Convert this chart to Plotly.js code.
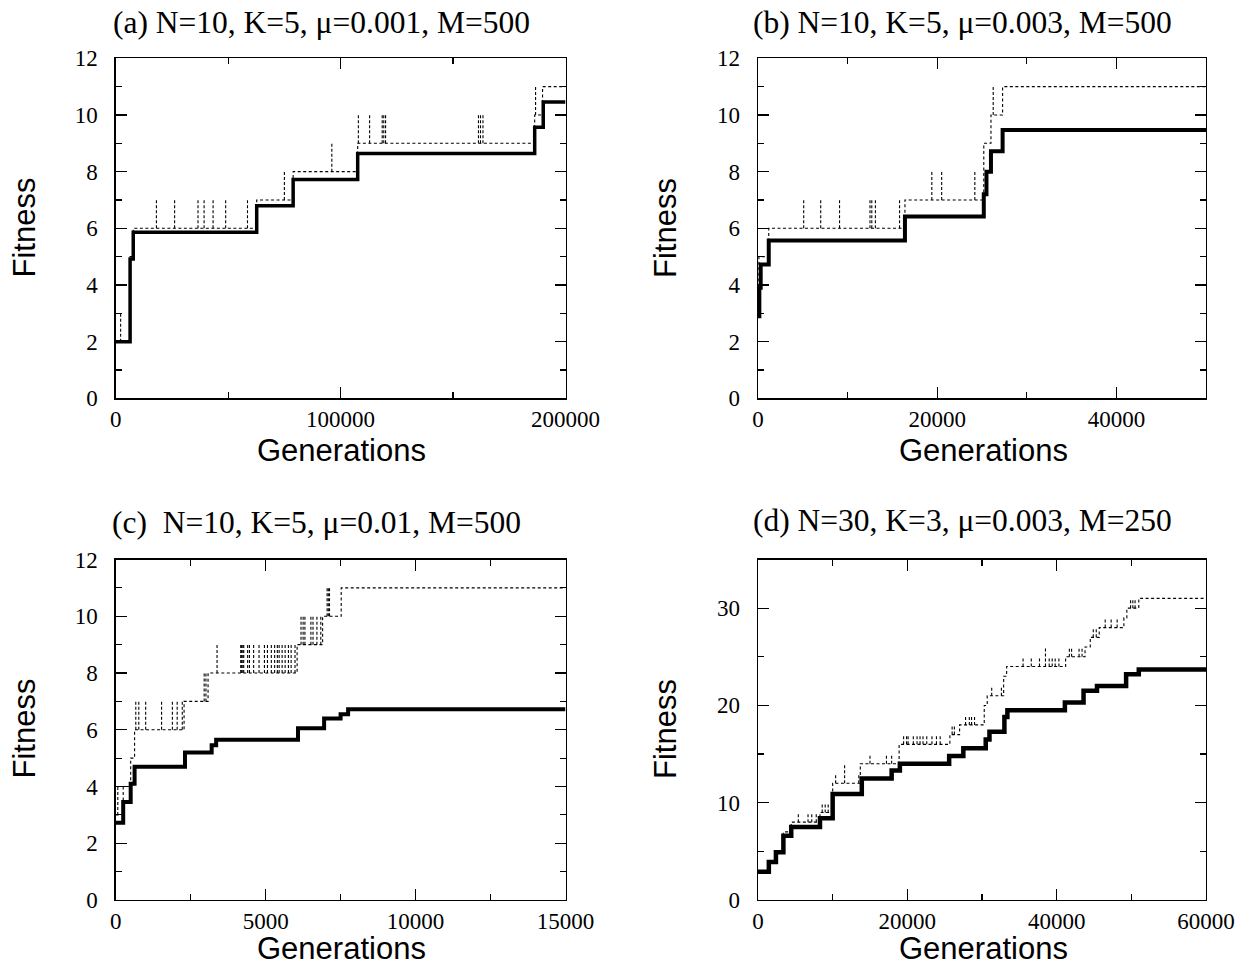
<!DOCTYPE html>
<html><head><meta charset="utf-8">
<script src="https://cdn.plot.ly/plotly-3.0.1.min.js"></script>
<style>html,body{margin:0;padding:0;background:#fff}</style>
</head><body><div id="chart" style="width:1247px;height:966px"></div>
<script>
// ---------- Panel (a) N=10, K=5, mu=0.001, M=500 ----------
const aMeanGen = [0, 6400, 7800, 62700, 78900, 107600, 186300, 190100, 200000];
const aMeanFit = [2.0, 4.92, 5.86, 6.8, 7.72, 8.64, 9.57, 10.46, 10.46];
const aMaxGen  = [0, 6400, 7800, 62700, 78900, 107600, 186300, 189800, 200000];
const aMaxFit  = [2, 5, 6, 7, 8, 9, 10, 11, 11];
const aSpikeGen = [2200, 18100, 26200, 36600, 39300, 43300, 48900, 58600, 75000, 96100,
                   107900, 112900, 118500, 119200, 120000, 161300, 162200, 163300, 186700];
const aSpikeTop = [3, 7, 7, 7, 7, 7, 7, 7, 8, 9, 10, 10, 10, 10, 10, 10, 10, 10, 11];

// ---------- Panel (b) N=10, K=5, mu=0.003, M=500 ----------
const bMeanGen = [0, 150, 300, 1200, 16400, 25200, 25500, 26000, 27300, 50000];
const bMeanFit = [2.9, 3.9, 4.72, 5.57, 6.42, 7.2, 8.0, 8.72, 9.47, 9.47];
const bMaxGen  = [0, 100, 1200, 16400, 25200, 26000, 27300, 50000];
const bMaxFit  = [3, 5, 6, 7, 9, 10, 11, 11];
const bSpikeGen = [5100, 7000, 9100, 12500, 12700, 13100, 15800, 19400, 20500, 24200, 26250];
const bSpikeTop = [7, 7, 7, 7, 7, 7, 7, 8, 8, 8, 11];

// ---------- Panel (c) N=10, K=5, mu=0.01, M=500 ----------
const cMeanGen = [0, 250, 500, 630, 2310, 3200, 3350, 6080, 6950, 7500, 7750, 15000];
const cMeanFit = [2.72, 3.45, 4.1, 4.7, 5.2, 5.45, 5.65, 6.05, 6.4, 6.55, 6.72, 6.72];
const cMaxGen  = [0, 250, 500, 630, 2280, 3080, 6050, 6900, 7520, 15000];
const cMaxFit  = [3, 4, 5, 6, 7, 8, 9, 10, 11, 11];
const cSpikeGen = [70, 670, 770, 1000, 1530, 1890, 2050, 2220, 2950, 3010,
                   3380, 4170, 4200, 4240, 4270, 4400, 4460, 4600, 4780, 4960,
                   5060, 5190, 5300, 5390, 5450, 5550, 5650, 5760, 5850, 5980,
                   6180, 6250, 6310, 6510, 6580, 6710, 6840, 7050, 7090, 7130];
const cSpikeTop = [4, 7, 7, 7, 7, 7, 7, 7, 8, 8,
                   9, 9, 9, 9, 9, 9, 9, 9, 9, 9,
                   9, 9, 9, 9, 9, 9, 9, 9, 9, 9,
                   10, 10, 10, 10, 10, 10, 10, 11, 11, 11];

// ---------- Panel (d) N=30, K=3, mu=0.003, M=250 ----------
const dMeanGen = [0, 1450, 2400, 3400, 4450, 8300, 10000, 13900, 17900, 19000, 25600,
                  27500, 30500, 31000, 33000, 33400, 41100, 43600, 45400, 49300, 51000, 60000];
const dMeanFit = [2.9, 3.9, 4.9, 6.6, 7.5, 8.4, 10.9, 12.5, 13.3, 14.0, 14.8,
                  15.6, 16.5, 17.3, 18.8, 19.5, 20.3, 21.5, 22.0, 23.2, 23.7, 23.6];
const dMaxGen  = [0, 1450, 2400, 3400, 4450, 8300, 10000, 13700, 18900, 25700, 27000,
                  30300, 30700, 32900, 33300, 41200, 43800, 44500, 45700, 49000, 49400, 51000, 60000];
const dMaxFit  = [3, 4, 5, 7, 8, 9, 12, 14, 16, 17, 18,
                  20, 21, 23, 24, 25, 26, 27, 28, 29, 30, 31, 31];
const dSpikeGen = [5400, 6700, 7200, 7800, 8600, 9000, 9400, 10400, 11600, 13500,
                   15000, 17200, 17900, 19500, 19900, 20100, 20800, 21300, 21700, 22100,
                   22600, 23300, 23900, 24400, 26000, 26300, 27800, 28300, 28600, 29000,
                   31300, 32600, 35500, 36600, 37700, 38500, 39000, 39400, 39800, 40300,
                   41700, 42000, 43000, 43400, 44900, 45300, 46500, 47300, 48100, 49900,
                   50200, 50500];
const dSpikeTop = [9, 9, 9, 9, 10, 10, 10, 13, 14, 13,
                   15, 15, 15, 17, 17, 17, 17, 17, 17, 17,
                   17, 17, 17, 17, 18, 18, 19, 19, 19, 19,
                   22, 22, 25, 25, 25, 26, 25, 25, 25, 25,
                   26, 26, 26, 26, 28, 28, 29, 29, 29, 31,
                   31, 31];

// ---------- Titles and ticks ----------
const panelTitles = ["(a) N=10, K=5, \u03bc=0.001, M=500", "(b) N=10, K=5, \u03bc=0.003, M=500",
                     "(c)\u00a0\u00a0N=10, K=5, \u03bc=0.01, M=500", "(d) N=30, K=3, \u03bc=0.003, M=250"];
const xTitle = "Generations", yTitle = "Fitness";
const aXTicks = [0, 100000, 200000], bXTicks = [0, 20000, 40000];
const cXTicks = [0, 5000, 10000, 15000], dXTicks = [0, 20000, 40000, 60000];
const fitTicks12 = [0, 2, 4, 6, 8, 10, 12], fitTicks35 = [0, 10, 20, 30];

// ---------- helpers ----------
function stepTrace(gx, fy, xa, ya, w, dash) {
  return {x: gx, y: fy, xaxis: xa, yaxis: ya, mode: 'lines', line: {shape: 'hv', color: '#000', width: w, dash: dash || 'solid'},
          hoverinfo: 'skip', showlegend: false};
}
function spikeTrace(gens, tops, stepGen, stepFit, xa, ya) {
  const x = [], y = [];
  gens.forEach((g, i) => {
    let lvl = stepFit[0];
    for (let k = 0; k < stepGen.length; k++) { if (stepGen[k] <= g) lvl = stepFit[k]; }
    x.push(g, g, null); y.push(lvl, tops[i], null);
  });
  return {x, y, xaxis: xa, yaxis: ya, mode: 'lines', line: {color: '#000', width: 1.1, dash: '3px,2px'},
          hoverinfo: 'skip', showlegend: false};
}
const W = 1247, H = 966;
const DOT = '3px,2.5px';
const traces = [
  stepTrace(aMaxGen, aMaxFit, 'x', 'y', 1.1, DOT),
  spikeTrace(aSpikeGen, aSpikeTop, aMaxGen, aMaxFit, 'x', 'y'),
  stepTrace(aMeanGen, aMeanFit, 'x', 'y', 3.5),
  stepTrace(bMaxGen, bMaxFit, 'x2', 'y2', 1.1, DOT),
  spikeTrace(bSpikeGen, bSpikeTop, bMaxGen, bMaxFit, 'x2', 'y2'),
  stepTrace(bMeanGen, bMeanFit, 'x2', 'y2', 4),
  stepTrace(cMaxGen, cMaxFit, 'x3', 'y3', 1.1, DOT),
  spikeTrace(cSpikeGen, cSpikeTop, cMaxGen, cMaxFit, 'x3', 'y3'),
  stepTrace(cMeanGen, cMeanFit, 'x3', 'y3', 4),
  stepTrace(dMaxGen, dMaxFit, 'x4', 'y4', 1.1, DOT),
  spikeTrace(dSpikeGen, dSpikeTop, dMaxGen, dMaxFit, 'x4', 'y4'),
  stepTrace(dMeanGen, dMeanFit, 'x4', 'y4', 4.5)
];

const tickFont = {family: 'Liberation Serif, Times New Roman, serif', size: 23, color: '#000'};
function axisBase(domain, range, tickvals, minorDtick, anchor, standoff) {
  return {domain, range, anchor, tickmode: 'array', tickvals, ticktext: tickvals.map(String),
          ticks: 'inside', ticklen: 11, tickwidth: 1.2, tickcolor: '#000',
          minor: {ticks: 'inside', ticklen: 6, tickwidth: 1.2, tickcolor: '#000', tickmode: 'linear', tick0: 0, dtick: minorDtick},
          showline: true, linecolor: '#000', linewidth: 1.3, mirror: 'ticks', showgrid: false, zeroline: false,
          tickfont: tickFont, ticklabelstandoff: standoff, fixedrange: true};
}
const xL = [115.7 / W, 565.5 / W], xR = [758 / W, 1206 / W];
const yT = [1 - 398.3 / H, 1 - 58.3 / H], yB = [1 - 900 / H, 1 - 559.5 / H];

const layout = {
  width: W, height: H, margin: {l: 0, r: 0, t: 0, b: 0}, autosize: false,
  paper_bgcolor: '#fff', plot_bgcolor: '#fff', showlegend: false,
  xaxis:  axisBase(xL, [0, 200000], aXTicks, 50000, 'y', 0),
  yaxis:  axisBase(yT, [0, 12], fitTicks12, 1, 'x', 12),
  xaxis2: axisBase(xR, [0, 50000], bXTicks, 10000, 'y2', 0),
  yaxis2: axisBase(yT, [0, 12], fitTicks12, 1, 'x2', 12),
  xaxis3: axisBase(xL, [0, 15000], cXTicks, 2500, 'y3', 0),
  yaxis3: axisBase(yB, [0, 12], fitTicks12, 1, 'x3', 12),
  xaxis4: axisBase(xR, [0, 60000], dXTicks, 10000, 'y4', 0),
  yaxis4: axisBase(yB, [0, 35], fitTicks35, 5, 'x4', 12),
  annotations: []
};
const titleFont = {family: 'Liberation Serif, Times New Roman, serif', size: 31.5, color: '#000'};
const labFont = {family: 'Liberation Sans, Arial, sans-serif', size: 31, color: '#000'};
function ann(text, x, y, font, angle) {
  return {text, x: x / W, y: 1 - y / H, xref: 'paper', yref: 'paper', xanchor: 'center', yanchor: 'middle',
          showarrow: false, font, textangle: angle || 0};
}
const titlePos = [[321, 22], [963, 22], [316, 522], [963, 520]];
titlePos.forEach((p, i) => layout.annotations.push(ann(panelTitles[i], p[0], p[1], titleFont)));
[[341, 450], [983, 450], [341, 948], [983, 948]].forEach(p => layout.annotations.push(ann(xTitle, p[0], p[1], labFont)));
[[23.5, 228], [665, 228], [23.5, 729], [665, 729]].forEach(p => layout.annotations.push(ann(yTitle, p[0], p[1], labFont, -90)));

Plotly.newPlot('chart', traces, layout, {displayModeBar: false, staticPlot: true});
</script>
</body></html>
